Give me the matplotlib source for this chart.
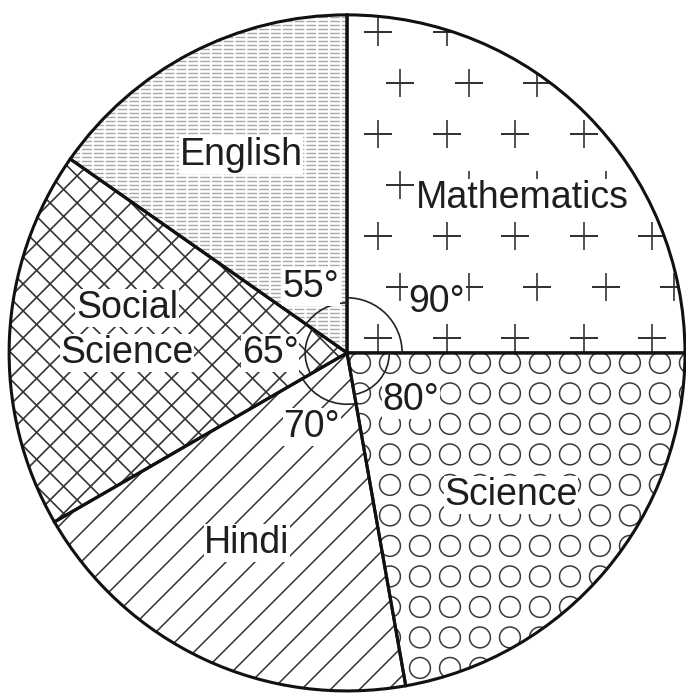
import numpy as np
import matplotlib
matplotlib.use('Agg')
import matplotlib.pyplot as plt
from matplotlib.patches import Arc, Wedge
from matplotlib.collections import LineCollection

# ---- data ----
subjects = ['Mathematics', 'Science', 'Hindi', 'Social Science', 'English']
angles = [90, 80, 70, 65, 55]
angle_labels = ['90°', '80°', '70°', '65°', '55°']

plt.rcParams['font.family'] = ['Liberation Sans', 'DejaVu Sans']

fig = plt.figure(figsize=(6.86, 6.96), dpi=100)
ax = fig.add_axes([0, 0, 1, 1])
ax.axis('off')

wedges, _ = ax.pie(angles, startangle=90, counterclock=False, radius=1, center=(0, 0),
                   wedgeprops=dict(facecolor='white', edgecolor='none', linewidth=0))

px = 1 / 338.0  # one pixel in data units
ink = '#1e1e1e'

# ---- textures (clipped to wedges) ----
# Mathematics: staggered plus signs
for i, y in enumerate(0.950 - np.arange(0, 8) * 51 * px):
    x0 = 0.092 if i % 2 == 0 else 0.157
    xs = x0 + np.arange(-1, 7) * 68.5 * px
    ln, = ax.plot(xs, np.full_like(xs, y), linestyle='none', marker='+', ms=20,
                  mew=1.2, color='#333333', zorder=2)
    ln.set_clip_path(wedges[0])

# Science: grid of small circles
cx = 0.127 + np.arange(-3, 14) * 30 * px
cy = -0.0296 - np.arange(0, 13) * 30.5 * px
gx, gy = np.meshgrid(cx, cy)
sc = ax.scatter(gx.ravel(), gy.ravel(), s=15 ** 2, marker='o', facecolors='none',
                edgecolors='#3a3a3a', linewidths=1.1, zorder=2)
sc.set_clip_path(wedges[1])

def diag_lines(h, sign):
    segs = []
    for c in np.arange(-3, 3, h):
        x = np.array([-1.3, 1.3])
        segs.append(np.column_stack([x, sign * x - c]))
    return segs

# Hindi: single diagonal hatch
lc = LineCollection(diag_lines(29 * px, 1), colors='#333333', linewidths=1.1, zorder=2)
ax.add_collection(lc)
lc.set_clip_path(wedges[2])

# Social Science: cross hatch
lc2 = LineCollection(diag_lines(27 * px, 1) + diag_lines(27 * px, -1),
                     colors='#333333', linewidths=1.2, zorder=2)
ax.add_collection(lc2)
lc2.set_clip_path(wedges[3])

# English: fine light gray stipple lines
hs = [np.array([[-1.3, y], [1.3, y]]) for y in np.arange(-1.1, 1.1, 4 * px)]
lc3 = LineCollection(hs, colors='#a8a8a8', linewidths=1.0, linestyles=(0, (7, 1.5)), zorder=2)
ax.add_collection(lc3)
lc3.set_clip_path(wedges[4])

# ---- outlines ----
for w in wedges:
    ax.add_patch(Wedge((0, 0), 1, w.theta1, w.theta2, facecolor='none',
                       edgecolor='#111111', linewidth=2.2, zorder=4))

# ---- angle arcs ----
arc_r = [0.163, 0.125, 0.152, 0.124, 0.148]
for w, r in zip(wedges, arc_r):
    ax.add_patch(Arc((0, 0), 2 * r, 2 * r, theta1=w.theta1, theta2=w.theta2,
                     color='#222222', linewidth=1.2, zorder=4))

# ---- labels ----
box = dict(facecolor='white', edgecolor='none', pad=0.5)
name_pos = {'Mathematics': (0.519, 0.459), 'Science': (0.485, -0.420),
            'Hindi': (-0.296, -0.562), 'English': (-0.314, 0.586)}
for name in subjects:
    if name == 'Social Science':
        for part, yy in zip(name.split(' '), (0.133, 0.0)):
            ax.text(-0.651, yy, part, ha='center', va='center', fontsize=27,
                    color=ink, bbox=box, zorder=6)
    else:
        x, y = name_pos[name]
        ax.text(x, y, name, ha='center', va='center', fontsize=27, color=ink,
                bbox=box, zorder=6)

angle_pos = [(0.266, 0.151), (0.189, -0.139), (-0.104, -0.219),
             (-0.228, 0.0), (-0.107, 0.195)]
for lab, (x, y) in zip(angle_labels, angle_pos):
    ax.text(x, y, lab, ha='center', va='center', fontsize=27, color=ink,
            bbox=box, zorder=6)

ax.set_xlim(-1.027, 1.003)
ax.set_ylim(-1.015, 1.044)
ax.set_aspect('auto')

fig.savefig('out.png', dpi=100, facecolor='white')
